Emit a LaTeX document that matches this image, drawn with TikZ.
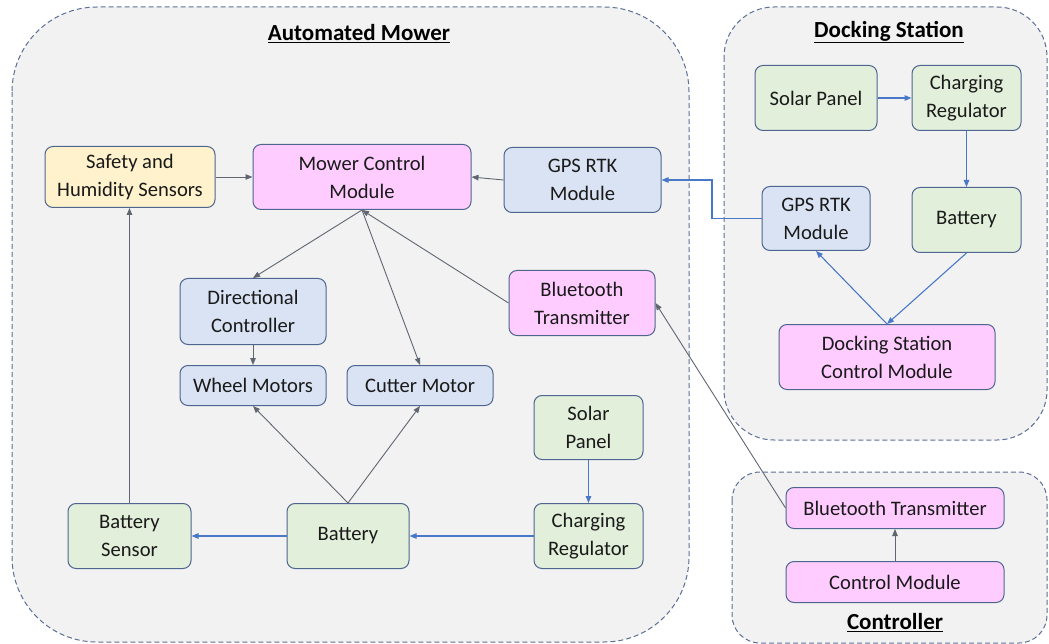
\documentclass[tikz,border=0pt]{standalone}
\usepackage{fontspec}
\setmainfont{Carlito}
\usetikzlibrary{arrows.meta}
\definecolor{contfill}{HTML}{F2F2F2}
\definecolor{contline}{HTML}{5C6F94}
\definecolor{nodeline}{HTML}{4E6590}
\definecolor{pinkf}{HTML}{FFCCFF}
\definecolor{bluef}{HTML}{DAE3F3}
\definecolor{greenf}{HTML}{E2EFDA}
\definecolor{yellowf}{HTML}{FFF2CC}
\definecolor{grayarrow}{HTML}{5F6670}
\definecolor{bluearrow}{HTML}{4A78C8}
\definecolor{textc}{HTML}{1A1A1A}
\tikzset{
  container/.style={draw=contline, fill=contfill, line width=1pt, dash pattern=on 5pt off 3pt},
  box/.style={draw=nodeline, line width=1pt, rounded corners=8pt, inner sep=0pt, align=center,
    text=textc, font=\fontsize{20.6}{28}\selectfont},
  pinkbox/.style={box, fill=pinkf},
  bluebox/.style={box, fill=bluef},
  greenbox/.style={box, fill=greenf},
  yellowbox/.style={box, fill=yellowf},
  title/.style={text=black, font=\fontsize{23}{27}\selectfont\bfseries},
  garrow/.style={draw=grayarrow, line width=0.9pt, -{Triangle[length=7pt,width=5.5pt]}},
  barrow/.style={draw=bluearrow, line width=1.1pt, -{Triangle[length=7pt,width=5.5pt]}},
}
\newcommand{\bx}[7]{% style, name, x1, y1, x2, y2, text
  \node[#1, minimum width={(#5)-(#3)}, minimum height={(#6)-(#4)}] (#2) at ({((#3)+(#5))/2},{((#4)+(#6))/2+1.5}) {#7};}
\begin{document}
\begin{tikzpicture}[x=1pt,y=-1pt]
\useasboundingbox (0,0) rectangle (1049,644);
% containers
\draw[container, rounded corners=85pt] (12,7) rectangle (689,642);
\draw[container, rounded corners=50pt] (724,7) rectangle (1047,440);
\draw[container, rounded corners=28pt] (732,472) rectangle (1047,643);
\node[title] (tmower) at (359,34) {\underline{Automated Mower}};
\node[title] (tdock) at (889,32) {\underline{Docking Station}};
\node[title] (tctrl) at (895,623) {\underline{Controller}};
% mower nodes
\bx{yellowbox}{safety}{45}{145}{215}{206}{Safety and\\Humidity Sensors}
\bx{pinkbox}{mcm}{253}{143}{471}{208}{Mower Control\\Module}
\bx{bluebox}{gps}{504}{146}{661}{211}{GPS RTK\\Module}
\bx{bluebox}{dir}{180}{277}{326}{343}{Directional\\Controller}
\bx{bluebox}{wheel}{180}{364}{326}{404}{Wheel Motors}
\bx{bluebox}{cut}{347}{364}{493}{404}{Cutter Motor}
\bx{pinkbox}{bt}{509}{269}{655}{334}{Bluetooth\\Transmitter}
\bx{greenbox}{sol}{534}{394}{643}{458}{Solar\\Panel}
\bx{greenbox}{chg}{534}{502}{643}{567}{Charging\\Regulator}
\bx{greenbox}{bat}{287}{502}{409}{567}{Battery}
\bx{greenbox}{bs}{68}{502}{191}{567}{Battery\\Sensor}
% docking nodes
\bx{greenbox}{dsol}{755}{64}{877}{129}{Solar Panel}
\bx{greenbox}{dchg}{912}{64}{1021}{129}{Charging\\Regulator}
\bx{bluebox}{dgps}{762}{185}{870}{249}{GPS RTK\\Module}
\bx{greenbox}{dbat}{912}{186}{1021}{251}{Battery}
\bx{pinkbox}{dscm}{779}{323}{995}{388}{Docking Station\\Control Module}
% controller nodes
\bx{pinkbox}{cbt}{786}{486}{1004}{527}{Bluetooth Transmitter}
\bx{pinkbox}{cm}{786}{560}{1004}{601}{Control Module}
% mower connectors
\draw[garrow] (safety.east) -- (mcm.west);
\draw[garrow] (gps.west) -- (mcm.east);
\draw[garrow] (mcm.south) -- (dir.north);
\draw[garrow] (mcm.south) -- (cut.north);
\draw[garrow] (bt.west) -- (mcm.south);
\draw[garrow] (dir.south) -- (wheel.north);
\draw[garrow] (bat.north) -- (wheel.south);
\draw[garrow] (bat.north) -- (cut.south);
\draw[garrow] (bs.north) -- (bs.north |- safety.south);
\draw[barrow] (bat.west) -- (bs.east);
\draw[barrow] (chg.west) -- (bat.east);
\draw[barrow] (sol.south) -- (chg.north);
% docking connectors
\coordinate (bend) at (712,0);
\draw[barrow] (dgps.west) -- (bend |- dgps.west) -- (bend |- gps.east) -- (gps.east);
\draw[barrow] (dsol.east) -- (dchg.west);
\draw[barrow] (dchg.south) -- (dbat.north);
\draw[barrow] (dbat.south) -- (dscm.north);
\draw[barrow] (dscm.north) -- (dgps.south);
% controller connectors
\draw[garrow] (cm.north) -- (cbt.south);
\draw[garrow] (cbt.west) -- (bt.east);
\end{tikzpicture}
\end{document}
